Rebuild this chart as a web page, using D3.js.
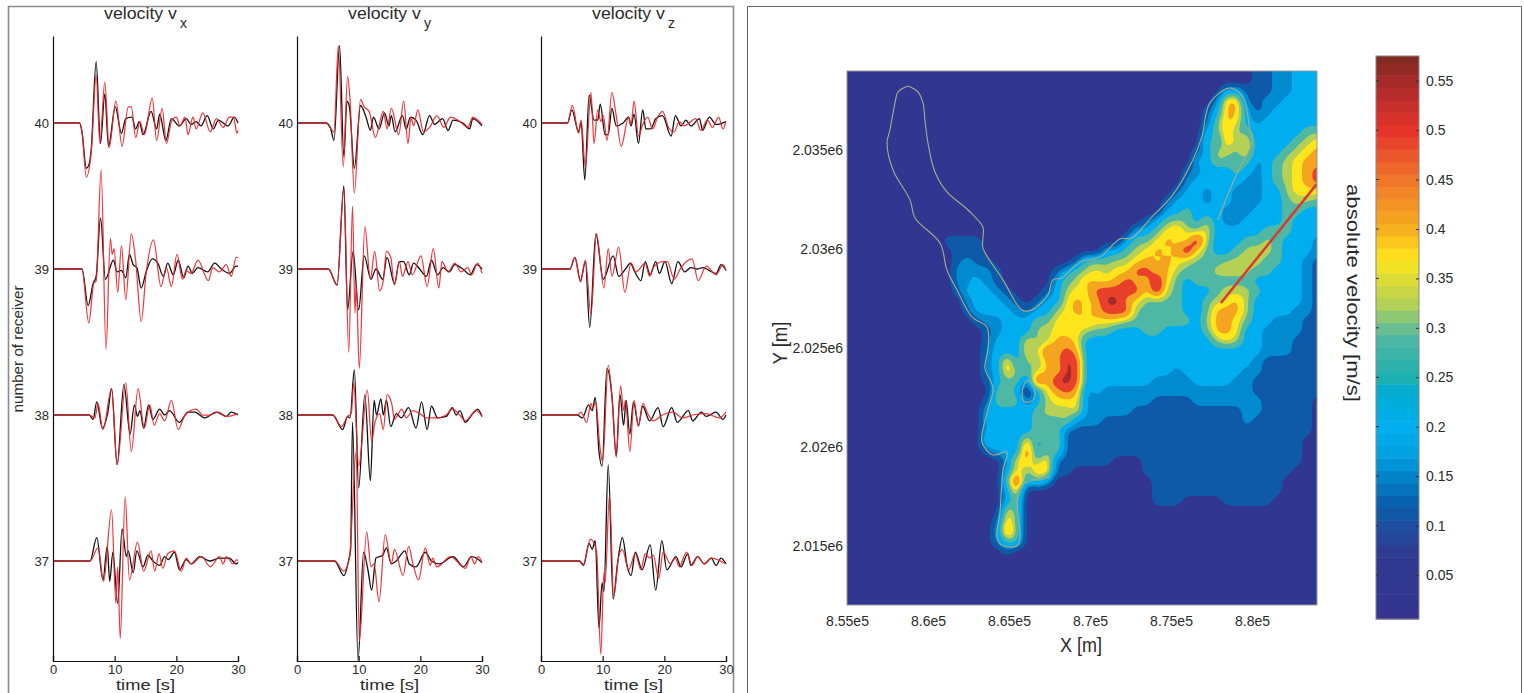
<!DOCTYPE html>
<html>
<head>
<meta charset="utf-8">
<script src="https://cdn.jsdelivr.net/npm/d3@7"></script>
<style>
  body { margin: 0; background: #fff; }
  svg { display: block; }
  text { font-family: "Liberation Sans", Arial, sans-serif; fill: #2a2a2a; }
</style>
</head>
<body>
<div id="chart"></div>
<script>
// seismograms: [time in s, offset from the receiver baseline]
const vx40obs = [[0,0],[4.3,0],[4.7,-.06],[5.4,-.31],[5.8,-.29],[6.2,-.18],[7,.42],[7.7,-.14],[8.4,.2],[9,-.16],[10.1,.11],[11.1,-.07],[11.8,.03],[12.8,.04],[13.4,-.04],[14,.01],[14.6,-.08],[15.9,.08],[16.8,-.04],[17.3,.06],[18.3,-.12],[19.2,.03],[20.5,-.02],[21.6,.03],[22.4,-.01],[23.2,.01],[24,-.02],[25,.05],[26,-.04],[26.8,.02],[28.4,-.02],[29.4,.04],[30,0]];
const vx40syn = [[0,0],[4.3,0],[4.7,-.06],[5.4,-.37],[6.2,-.2],[7,.33],[7.6,-.14],[8.4,.28],[9.1,-.17],[10.2,.15],[11.2,-.16],[12.2,.11],[12.7,.11],[13.4,-.1],[14.1,.01],[14.8,-.08],[16.1,.17],[16.8,-.12],[17.7,.1],[18.4,-.14],[19.2,.01],[20,.04],[20.6,-.02],[21.4,.04],[21.9,-.08],[22.7,.04],[23.2,-.04],[24.3,.07],[25.5,-.06],[26.5,.03],[27.6,-.03],[28.6,.04],[29.2,.04],[29.5,0],[29.8,-.07],[30,-.05]];
const vx39obs = [[0,0],[4.7,0],[5.7,-.25],[6.5,-.1],[7,-.05],[7.7,.35],[8.5,-.07],[9.8,.06],[10.4,-.02],[11.1,-.01],[11.8,-.06],[12.4,.1],[13,.03],[13.6,.01],[14.3,-.13],[15.1,-.02],[16.1,.07],[17,.04],[17.9,-.05],[18.6,.04],[19.5,-.04],[20.3,.06],[21.2,-.06],[21.9,.02],[22.6,-.03],[23.5,.01],[25.1,-.02],[26.2,.04],[27.3,0],[28.6,-.03],[29.7,.02],[30,.02]];
const vx39syn = [[0,0],[4.7,0],[5.8,-.37],[6.6,-.1],[7,-.08],[7.8,.68],[8.6,-.55],[9.3,.21],[9.6,.1],[9.9,.14],[10.5,-.16],[11.1,.16],[11.8,-.21],[12.7,.24],[13.4,.06],[14.3,-.36],[15.1,-.03],[16.3,.2],[17.5,-.12],[18.4,.01],[19.2,-.12],[20.1,.1],[21,-.07],[21.6,-.01],[22.4,-.03],[23.5,.06],[25.2,-.08],[25.9,.01],[27,-.02],[28.1,.03],[28.9,-.05],[29.7,.08],[30,.08]];
const vx38obs = [[0,0],[5.9,0],[6.5,-.03],[7.1,.09],[8,-.09],[8.9,.02],[9.5,.18],[10.4,-.34],[11.5,.21],[12.5,-.13],[13.2,.07],[13.7,-.01],[14.1,.03],[14.7,-.09],[15.5,.07],[16.2,-.03],[17.3,.04],[18.1,0],[18.9,.03],[20.5,-.05],[21.9,.02],[23,.02],[24.6,-.02],[26.5,.02],[28.1,-.01],[28.9,.02],[30,0]];
const vx38syn = [[0,0],[5.9,0],[6.8,-.02],[7.3,.08],[8.1,-.1],[9.5,.18],[10.4,-.34],[11.8,.22],[12.7,-.25],[13.8,.18],[14.8,-.09],[15.7,.07],[16.4,-.07],[17.3,.01],[18.1,-.04],[19.2,.1],[20.3,-.1],[21.4,0],[23.2,.04],[24.3,0],[25.4,0],[26.8,.02],[28.1,-.01],[30,.01]];
const vx37obs = [[0,0],[6,0],[7.1,.16],[8.1,-.13],[8.8,.1],[9.2,-.14],[9.7,.06],[10.5,-.29],[11.2,.22],[11.9,.03],[12.2,.07],[13,-.08],[13.6,.07],[14.6,-.04],[15.4,.04],[16.2,0],[17.3,-.03],[18.1,.03],[18.7,.01],[19.7,.06],[20.5,-.06],[21.6,.01],[22.4,-.02],[23.8,.03],[25.4,0],[27,.02],[28.6,.02],[29.7,-.02],[30,-.01]];
const vx37syn = [[0,0],[6,0],[7.3,.09],[8.2,-.14],[9.5,.35],[10.2,-.29],[10.5,-.04],[10.9,-.53],[11.7,.44],[12.4,-.13],[13.7,.13],[14.7,-.07],[15.9,.07],[16.5,-.07],[17.2,.05],[17.8,-.05],[18.6,.05],[19.7,.07],[20.8,-.07],[21.6,.02],[22.4,-.02],[24.1,.03],[25.5,-.04],[27,.03],[27.6,-.02],[28.1,.03],[29.2,-.02],[29.8,.01],[30,0]];

const vy40obs = [[0,0],[4.7,0],[5.4,-.03],[6,-.12],[6.9,.53],[7.6,-.23],[8.1,.15],[8.5,.11],[9.3,-.31],[10.3,.12],[11.2,.04],[11.9,-.05],[12.4,.04],[13.3,-.04],[14.2,.07],[14.9,-.02],[15.3,.05],[15.9,-.06],[17.1,.05],[17.7,-.04],[18.4,.04],[19.3,.02],[20.4,-.08],[21.5,.05],[22.3,-.01],[23.6,.03],[24.5,-.05],[25.3,.02],[26.9,0],[28,-.04],[28.5,.03],[30,-.02]];
const vy40syn = [[0,0],[4.7,0],[6,-.06],[6.7,.53],[7.5,-.3],[8.2,.32],[8.6,.16],[9.3,-.48],[10.3,.16],[10.9,.11],[11.7,.08],[12.7,-.1],[14,.08],[14.6,-.04],[15.3,.1],[16.5,-.08],[17.3,.15],[18,-.14],[18.5,.04],[18.9,-.02],[19.6,.09],[20.5,-.06],[21.5,-.03],[22.7,.05],[23.8,-.03],[24.9,.04],[26.4,.01],[27.7,-.03],[28.5,.04],[30,-.01]];
const vy39obs = [[0,0],[5.1,0],[6.5,-.11],[7.6,.57],[8.2,-.28],[9.1,.12],[10,-.28],[10.9,.09],[12,-.07],[12.8,0],[13.9,-.07],[14.6,.08],[15.8,-.1],[16.6,.05],[17.3,.05],[18.2,-.04],[18.9,.04],[19.9,0],[21,-.05],[21.8,.06],[22.8,-.04],[23.7,.01],[24.7,-.02],[25.6,.03],[26.9,0],[28.1,-.04],[29.1,.03],[30,0]];
const vy39syn = [[0,0],[5.1,0],[6.5,-.11],[7.6,.55],[8.4,-.57],[9,.43],[9.4,-.3],[9.6,-.1],[10.1,-.68],[11,.29],[11.9,-.07],[12.6,.12],[13.4,-.15],[14,-.08],[14.5,.12],[15.2,.08],[15.8,-.11],[16.6,.05],[17.1,-.05],[18,.05],[18.7,-.04],[20.1,.09],[21.1,-.12],[22.1,.14],[23,-.13],[23.5,.05],[24.5,-.02],[25.6,.04],[26.6,-.02],[27.7,.01],[28.3,-.04],[29.3,.04],[30,-.03]];
const vy38obs = [[0,0],[5.8,0],[7.4,-.1],[8.2,-.01],[8.6,-.02],[9.3,.31],[10,-.5],[11,.14],[11.9,-.45],[12.5,.1],[12.9,0],[13.6,.11],[14,0],[14.5,.1],[15.2,-.08],[16.1,.01],[16.9,-.02],[18.1,.05],[19.3,-.09],[20.2,.09],[21.1,-.1],[21.8,.06],[22.8,-.02],[24.2,-.01],[25.2,.05],[25.8,0],[26.4,.03],[27.3,-.05],[28.5,.01],[29.3,.04],[30,-.01]];
const vy38syn = [[0,0],[5.8,0],[7.2,-.08],[8.2,-.01],[8.8,.01],[9.2,.22],[10,-.35],[11.4,.17],[12.1,-.18],[12.6,-.06],[13.4,.01],[14,-.1],[14.6,.14],[15.4,.07],[15.8,-.03],[17,.04],[17.7,-.02],[18.8,.03],[19.9,.01],[21,-.02],[22.7,-.02],[24.2,0],[25.2,.04],[26.4,0],[27.3,-.04],[29.1,.03],[30,-.01]];
const vy37obs = [[0,0],[6.1,0],[7.6,-.1],[8.4,.01],[8.7,.08],[9,.95],[9.9,-.68],[10.8,.06],[11.5,-.06],[12.1,-.2],[12.8,.02],[13.9,.04],[14.5,.09],[15.3,-.02],[16.1,0],[17.5,.07],[18.2,-.02],[19.3,-.04],[20.8,.06],[21.8,0],[23.1,-.02],[25.3,.03],[27,-.04],[28.3,.03],[29.1,.02],[30,-.01]];
const vy37syn = [[0,0],[6.1,0],[7.6,-.07],[8.5,.02],[9.6,.75],[10.1,-.55],[11.3,.2],[12,-.04],[12.5,-.02],[13.3,-.28],[14.3,.18],[15.3,-.02],[15.8,.08],[17.2,-.1],[18.1,.1],[18.8,-.02],[19.7,-.13],[20.8,.09],[21.6,-.03],[22,.02],[22.7,-.04],[24.9,.03],[27.3,-.05],[28.2,.03],[28.8,-.02],[29.4,.03],[30,-.01]];

const vz40obs = [[0,0],[4.3,0],[5,.09],[6.1,-.06],[6.5,.01],[7.1,-.39],[7.8,.19],[8.6,.02],[9.2,.02],[9.6,.13],[10.4,-.08],[10.9,-.08],[11.5,.1],[12.2,-.02],[13.3,0],[14.2,.04],[14.6,-.02],[15.1,.06],[15.8,-.14],[16.5,.09],[17,-.04],[17.8,-.04],[18.6,.03],[19.7,.05],[21.1,-.09],[21.8,.05],[22.7,-.02],[23.5,.02],[24.3,-.02],[25.7,.03],[26.2,-.05],[27.3,.04],[28.4,-.01],[30,.01]];
const vz40syn = [[0,0],[4.3,0],[5.1,.12],[6.1,-.07],[6.5,.02],[7.2,-.3],[8.1,.21],[8.6,-.14],[9.2,.09],[9.7,.01],[10.1,.05],[10.7,-.12],[11.5,.21],[12.2,.05],[13,-.16],[14.2,.04],[14.6,-.01],[15.1,.15],[15.8,-.09],[16.5,-.01],[17.3,.04],[18.1,-.04],[18.9,.04],[19.7,.08],[20.8,-.04],[21.6,-.06],[22.4,.01],[23.2,-.02],[25.1,.03],[25.9,-.05],[27,.02],[27.8,-.03],[28.8,.04],[29.5,-.04],[30,.01]];
const vz39obs = [[0,0],[4.7,0],[5.5,.08],[6.4,-.08],[7.2,.05],[7.9,-.4],[8.9,.24],[10.1,-.07],[11.7,.09],[12.6,-.05],[13.7,0],[14.5,.04],[15.1,-.01],[16.2,-.08],[16.9,.05],[17.7,-.04],[18.6,.05],[19.2,-.03],[20.1,.05],[21.2,-.1],[22.2,.05],[23.3,-.02],[24.3,.01],[25.4,0],[26.2,.01],[28.4,-.03],[29.2,.03],[30,-.01]];
const vz39syn = [[0,0],[4.7,0],[5.5,.08],[6.4,-.09],[7.2,.06],[8.1,-.31],[9,.24],[10.2,-.13],[10.9,.14],[11.5,-.05],[12.6,.15],[13.6,-.16],[14.6,.04],[15.4,-.02],[16.9,.04],[17.6,-.05],[18.2,.01],[19.7,.05],[20.5,.05],[21.6,-.07],[22.7,.01],[24.5,.07],[25.5,-.08],[26.8,.02],[28.4,-.04],[29.5,.03],[30,-.01]];
const vz38obs = [[0,0],[5.9,0],[6.7,-.02],[7.7,.07],[8.3,.03],[8.8,.12],[9.4,-.25],[9.9,-.35],[10.7,.32],[11.5,.13],[12.2,-.28],[12.8,.14],[13.4,-.07],[13.8,.1],[14.4,-.13],[15,.09],[15.8,-.07],[16.5,.06],[17.6,-.04],[19,.05],[19.8,-.08],[21.2,.05],[22.1,-.05],[23.9,.03],[24.6,-.04],[26,.02],[26.8,-.01],[28.4,.02],[29.5,-.03],[30,0]];
const vz38syn = [[0,0],[5.9,0],[6.5,.02],[7.4,-.05],[8.1,.08],[8.4,.05],[8.9,.09],[9.5,-.2],[10,-.32],[10.9,.34],[11.6,.08],[12.2,-.29],[12.9,.2],[13.4,.03],[13.7,.1],[14.4,-.25],[15.1,.1],[15.8,-.08],[16.5,.08],[17.3,.01],[18.2,-.04],[19.7,0],[21.4,.02],[23,-.02],[24.6,0],[26.8,.01],[28.9,-.02],[30,.02]];
const vz37obs = [[0,0],[6.2,0],[6.9,-.03],[7.8,.12],[8.3,.08],[8.8,.14],[9.4,-.46],[9.9,-.15],[10.2,-.21],[10.9,.66],[11.7,-.26],[12.4,-.02],[13.2,.16],[14,-.04],[14.6,-.1],[15.3,.06],[16.4,-.06],[17.7,.11],[18.6,-.2],[19.6,.14],[20.4,-.06],[21.9,.03],[22.7,-.04],[23.8,.05],[24.3,-.03],[25.4,.03],[26.5,-.02],[27.6,.02],[28.4,-.03],[29.2,.02],[30,-.02]];
const vz37syn = [[0,0],[6.2,0],[6.9,-.02],[8,.15],[9,.07],[9.7,-.64],[10.2,-.08],[10.4,-.15],[11.1,.45],[11.8,-.24],[12.6,.03],[13.2,.08],[14.2,-.06],[15.3,.05],[16.2,-.06],[16.9,.05],[17.6,.02],[18.2,.04],[19.1,-.12],[19.8,.06],[21,-.02],[21.8,.02],[22.4,-.04],[23.6,.06],[24.5,-.03],[25.4,.03],[26.5,-.02],[27.6,.02],[30,-.02]];

const panelNames = ["x", "y", "z"];
const receivers = [40, 39, 38, 37];
const timeTicks = [0, 10, 20, 30];
const observed = [[vx40obs, vx39obs, vx38obs, vx37obs], [vy40obs, vy39obs, vy38obs, vy37obs], [vz40obs, vz39obs, vz38obs, vz37obs]];
const synthetic = [[vx40syn, vx39syn, vx38syn, vx37syn], [vy40syn, vy39syn, vy38syn, vy37syn], [vz40syn, vz39syn, vz38syn, vz37syn]];

// velocity map: one digit per 617 x 505 m cell, index into bandVelocity
const bandVelocity = [0.04, 0.115, 0.155, 0.2, 0.29, 0.325, 0.37, 0.41, 0.49, 0.55];
const gridRows = [
  "0000000000 0000000000 0000000000 0000000000 01122333",
  "0000000000 0000000000 0000000000 0000000000 01122333",
  "0000000000 0000000000 0000000000 0000000033 11122333",
  "0000000000 0000000000 0000000000 0000000277 11223333",
  "0000000000 0000000000 0000000000 0000001377 31233333",
  "0000000000 0000000000 0000000000 0000001476 32333333",
  "0000000000 0000000000 0000000000 0000003474 43333344",
  "0000000000 0000000000 0000000000 0000004375 63333456",
  "0000000000 0000000000 0000000000 0000013554 63334567",
  "0000000000 0000000000 0000000000 0000033544 42345677",
  "0000000000 0000000000 0000000000 0000123334 32345678",
  "0000000000 0000000000 0000000000 0000233333 22345678",
  "0000000000 0000000000 0000000000 0001332332 22335666",
  "0000000000 0000000000 0000000000 0013332332 22334554",
  "0000000000 0000000000 0000000000 0033433322 23334433",
  "0000000000 0000000000 0000000000 1345435322 33334333",
  "0000000000 0000000000 0000000003 3467556333 33444333",
  "0000000000 1111000000 0000000034 4676695333 44543332",
  "0000000000 0111000000 0000003345 6767964334 55543332",
  "0000000000 0121100000 0001444556 7676544455 55443321",
  "0000000000 0232210000 0134565668 8775444555 54433321",
  "0000000000 0223210000 0345766787 7964344444 43333321",
  "0000000000 0133321000 1356688888 6954333455 54333321",
  "0000000000 0023332101 3367679976 4444334567 53333321",
  "0000000000 0013333213 3567678884 4444334777 53333221",
  "0000000000 0001223334 4666766654 4444435776 43322211",
  "0000000000 0000123335 5666544333 4433334776 33222211",
  "0000000000 0000133364 5776333333 3333333565 33222111",
  "0000000000 0000233365 8787333333 3333333333 33222111",
  "0000000000 0000237354 7798333333 3333333333 32111111",
  "0000000000 0000237445 7698333333 3332333333 22111111",
  "0000000000 0000134419 6998333333 3222233332 21111111",
  "0000000000 0000044303 6787232222 2222222222 21111111",
  "0000000000 0000145413 5666222222 2111122222 22111110",
  "0000000000 0000333334 5556222221 1111111111 22111110",
  "0000000000 0000343334 4452221111 1111111111 21111110",
  "0000000000 0000333334 4411111111 1111111111 11111110",
  "0000000000 0000433373 4511111111 1111111111 11111100",
  "0000000000 0000133383 4411111111 1111111111 11111100",
  "0000000000 0000002674 7111111000 1111111111 11111100",
  "0000000000 0000003647 7110000000 1111111111 11111000",
  "0000000000 0000004934 3000000000 0111111111 11110000",
  "0000000000 0000003700 0000000000 0111111111 11110000",
  "0000000000 0000003400 0000000000 0111000011 11100000",
  "0000000000 0000006400 0000000000 0000000000 00000000",
  "0000000000 0000017400 0000000000 0000000000 00000000",
  "0000000000 0000028400 0000000000 0000000000 00000000",
  "0000000000 0000024400 0000000000 0000000000 00000000",
  "0000000000 0000001000 0000000000 0000000000 00000000",
  "0000000000 0000000000 0000000000 0000000000 00000000",
  "0000000000 0000000000 0000000000 0000000000 00000000",
  "0000000000 0000000000 0000000000 0000000000 00000000",
  "0000000000 0000000000 0000000000 0000000000 00000000",
  "0000000000 0000000000 0000000000 0000000000 00000000"
];

// glacier outline and profile line, in thousands of metres
const outlineEast = [[858.76,2038.23],[859.38,2037.93],[859.69,2037.37],[859.81,2036.52],[860,2035.35],[860.43,2033.89],[861.17,2032.88],[862.47,2031.97],[863.39,2031.11],[863.39,2030.56],[863.39,2030.05],[864.63,2028.44],[865.8,2026.92],[866.41,2026.92],[867.4,2027.68],[867.71,2028.44],[868.27,2028.54],[869.38,2029.34],[870.61,2029.6],[871.84,2030.51],[872.58,2030.56],[873.82,2031.62],[875.11,2032.73],[876.35,2034.5],[876.9,2035.66],[877.4,2037.37],[878.63,2038.13],[879.43,2037.68],[879.87,2036.01],[879.99,2035.35],[879.25,2034.14],[878.45,2032.63],[877.89,2031.46]];
const outlineWest = [[858.76,2038.23],[858.15,2037.93],[857.96,2037.37],[857.65,2036.01],[857.47,2035.35],[857.84,2033.99],[858.89,2032.48],[859.2,2031.57],[860.74,2030.3],[861.17,2028.94],[861.79,2027.93],[862.71,2026.57],[863.64,2026.06],[863.7,2024.9],[863.51,2023.99],[864.01,2022.98],[863.64,2021.72],[863.33,2020.25],[864.01,2019.6],[864.87,2019.75],[864.63,2018.84],[864.44,2016.67],[864.26,2015.46],[864.56,2015.05],[865.55,2015.05],[865.67,2017.98],[867.53,2018.49]];
const outlineLake = [[866.17,2023.39],[866.6,2022.88],[866.48,2022.38],[865.98,2022.27],[865.8,2022.73],[865.98,2023.23],[866.17,2023.39]];
const profileLine = [[878.08,2027.27],[884,2033.28]];

const xTicks = [855000, 860000, 865000, 870000, 875000, 880000];
const yTicks = [2015000, 2020000, 2025000, 2030000, 2035000];
const xTickLabels = ["8.55e5", "8.6e5", "8.65e5", "8.7e5", "8.75e5", "8.8e5"];
const yTickLabels = ["2.015e6", "2.02e6", "2.025e6", "2.03e6", "2.035e6"];
const barTicks = [0.05, 0.1, 0.15, 0.2, 0.25, 0.3, 0.35, 0.4, 0.45, 0.5, 0.55];

const colorStops = [0.0055, 0.07, 0.1, 0.12, 0.15, 0.17, 0.2, 0.235, 0.25, 0.29, 0.325, 0.37, 0.4, 0.45, 0.5, 0.55, 0.575];
const colorValues = ["#333591", "#30398f", "#1d4fa0", "#0b5dab", "#0083c9", "#00a0e0", "#00aeef", "#00acd2", "#1eb0ae", "#4eb8a4", "#b5d155", "#ffe61c", "#f6b01e", "#f0762a", "#e6332a", "#a52a2a", "#7a2a20"];
const velocityColor = d3.scaleLinear().domain(colorStops).range(colorValues);

const svg = d3.select("#chart").append("svg").attr("width", 1524).attr("height", 693);

// outer frames
svg.append("path").attr("d", "M8.5,693V6.5H733.5V693").attr("fill", "none").attr("stroke", "#8a8a8a").attr("stroke-width", 1.6);
svg.append("path").attr("d", "M747.5,693V6.5H1521.5V693").attr("fill", "none").attr("stroke", "#666").attr("stroke-width", 1);

const panelLeft = [53, 297, 541];
const titleLeft = [104, 348, 592];

const yScale = d3.scaleLinear().domain([36.315, 40.596]).range([661, 36]);
const traceLine = (xScale, receiver) => d3.line()
  .x(d => xScale(d[0]))
  .y(d => yScale(receiver + d[1]))
  .curve(d3.curveMonotoneX);

function drawPanel(k) {
  const xScale = d3.scaleLinear().domain([0, 30]).range([panelLeft[k], panelLeft[k] + 185]);
  const g = svg.append("g");

  receivers.forEach((r, i) => {
    g.append("path").attr("d", traceLine(xScale, r)(observed[k][i]))
      .attr("fill", "none").attr("stroke", "#111").attr("stroke-width", 1.3);
  });
  receivers.forEach((r, i) => {
    g.append("path").attr("d", traceLine(xScale, r)(synthetic[k][i]))
      .attr("fill", "none").attr("stroke", "#ec2229").attr("stroke-width", 1.25).attr("stroke-opacity", 0.9);
  });

  const xAxis = g.append("g").attr("transform", "translate(0,661)")
    .call(d3.axisBottom(xScale).tickValues(timeTicks).tickSize(-5).tickPadding(4).tickFormat(d3.format("d")));
  const yAxis = g.append("g").attr("transform", `translate(${panelLeft[k]},0)`)
    .call(d3.axisLeft(yScale).tickValues(receivers).tickSize(0).tickPadding(4).tickFormat(d3.format("d")));
  for (const axis of [xAxis, yAxis]) {
    axis.selectAll("text").attr("font-size", 13).style("font-family", "Liberation Sans");
    axis.selectAll("line, path").attr("stroke", "#111").attr("stroke-width", 1.2);
  }

  g.append("text").attr("x", titleLeft[k]).attr("y", 19).attr("font-size", 16)
    .attr("textLength", 73).attr("lengthAdjust", "spacingAndGlyphs").text("velocity v");
  g.append("text").attr("x", titleLeft[k] + 76).attr("y", 28).attr("font-size", 14).text(panelNames[k]);
  g.append("text").attr("x", xScale(15)).attr("y", 689.5).attr("text-anchor", "middle")
    .attr("font-size", 15.5).attr("textLength", 59).attr("lengthAdjust", "spacingAndGlyphs").text("time [s]");
}
panelNames.forEach((d, k) => drawPanel(k));

svg.append("text").attr("transform", "translate(23,349) rotate(-90)").attr("text-anchor", "middle")
  .attr("font-size", 15.5).attr("textLength", 127).attr("lengthAdjust", "spacingAndGlyphs").text("number of receiver");

// map
const mapX = d3.scaleLinear().domain([855000, 884012]).range([847, 1317]);
const mapY = d3.scaleLinear().domain([2012020, 2038990]).range([605, 71]);
const cellX = 617.3, cellY = 505;
const nCols = 48, nRows = gridRows.length, fine = 4;
const gridValues = gridRows.flatMap(row => Array.from(row.replace(/ /g, ""), c => bandVelocity[+c]));

// bilinear refinement, so the bands do not come out as staircases
function refineGrid(values, w, h, f) {
  const out = new Float64Array(w * f * h * f);
  for (let j = 0; j < h * f; j++) {
    const gy = Math.min(h - 1, Math.max(0, (j + 0.5) / f - 0.5));
    const j0 = Math.min(h - 2, Math.floor(gy)), ty = gy - j0;
    for (let i = 0; i < w * f; i++) {
      const gx = Math.min(w - 1, Math.max(0, (i + 0.5) / f - 0.5));
      const i0 = Math.min(w - 2, Math.floor(gx)), tx = gx - i0;
      const top = values[j0 * w + i0] * (1 - tx) + values[j0 * w + i0 + 1] * tx;
      const bottom = values[(j0 + 1) * w + i0] * (1 - tx) + values[(j0 + 1) * w + i0 + 1] * tx;
      out[j * w * f + i] = top * (1 - ty) + bottom * ty;
    }
  }
  return out;
}
const fineValues = refineGrid(gridValues, nCols, nRows, fine);
d3.blur2({data: fineValues, width: nCols * fine, height: nRows * fine}, 1);

const thresholds = bandVelocity.slice(1).map((v, i) => (v + bandVelocity[i]) / 2);
const contours = d3.contours().size([nCols * fine, nRows * fine]).smooth(true).thresholds(thresholds)(Array.from(fineValues));
const gridToMap = d3.geoTransform({
  point(cx, cy) {
    this.stream.point(mapX(855000 + (cx / fine - 0.5) * cellX), mapY(2038990 - (cy / fine - 0.5) * cellY));
  }
});
const contourPath = d3.geoPath(gridToMap);

svg.append("clipPath").attr("id", "map-clip").append("rect")
  .attr("x", 847).attr("y", 71).attr("width", 470).attr("height", 534);

const mapG = svg.append("g").attr("clip-path", "url(#map-clip)");
mapG.append("rect").attr("x", 847).attr("y", 71).attr("width", 470).attr("height", 534)
  .attr("fill", velocityColor(bandVelocity[0]));
mapG.selectAll(".band").data(contours).join("path").attr("class", "band")
  .attr("d", contourPath)
  .attr("fill", (d, i) => velocityColor(bandVelocity[i + 1]));

const outlineLine = d3.line().x(d => mapX(d[0] * 1000)).y(d => mapY(d[1] * 1000)).curve(d3.curveCatmullRom);
for (const outline of [outlineEast, outlineWest, outlineLake]) {
  mapG.append("path").attr("d", outlineLine(outline)).attr("fill", "none")
    .attr("stroke", "#a9ab8c").attr("stroke-width", 1.1);
}
mapG.append("path").attr("d", outlineLine(profileLine)).attr("stroke", "#e0352b").attr("stroke-width", 2.4);

svg.append("rect").attr("x", 847).attr("y", 71).attr("width", 470).attr("height", 534)
  .attr("fill", "none").attr("stroke", "#9a9a9a");

const mapXAxis = svg.append("g").attr("transform", "translate(0,605)")
  .call(d3.axisBottom(mapX).tickValues(xTicks).tickSize(0).tickPadding(11).tickFormat((d, i) => xTickLabels[i]));
const mapYAxis = svg.append("g").attr("transform", "translate(847,0)")
  .call(d3.axisLeft(mapY).tickValues(yTicks).tickSize(0).tickPadding(4).tickFormat((d, i) => yTickLabels[i]));
for (const axis of [mapXAxis, mapYAxis]) {
  axis.select(".domain").remove();
  axis.selectAll("text").attr("font-size", 14).style("font-family", "Liberation Sans");
}

svg.append("text").attr("x", 1081).attr("y", 652).attr("text-anchor", "middle").attr("font-size", 20)
  .attr("textLength", 42).attr("lengthAdjust", "spacingAndGlyphs").text("X [m]");
svg.append("text").attr("transform", "translate(787,343) rotate(-90)").attr("text-anchor", "middle").attr("font-size", 20)
  .attr("textLength", 43).attr("lengthAdjust", "spacingAndGlyphs").text("Y [m]");

// colour bar
const barY = d3.scaleLinear().domain([0.0055, 0.575]).range([619, 56]);
const barEdges = d3.range(0.0055, 0.575, 0.0125).concat([0.575]);
svg.selectAll(".bar-step").data(d3.pairs(barEdges)).join("rect").attr("class", "bar-step")
  .attr("x", 1376).attr("width", 43)
  .attr("y", d => barY(d[1]))
  .attr("height", d => barY(d[0]) - barY(d[1]) + 0.5)
  .attr("fill", d => velocityColor((d[0] + d[1]) / 2));
svg.append("rect").attr("x", 1376).attr("y", 56).attr("width", 43).attr("height", 563)
  .attr("fill", "none").attr("stroke", "#888");

const barAxis = svg.append("g").attr("transform", "translate(1419,0)")
  .call(d3.axisRight(barY).tickValues(barTicks).tickSize(-3).tickPadding(7).tickFormat(d3.format("")));
barAxis.select(".domain").remove();
barAxis.selectAll("line").attr("stroke", "#333");
barAxis.selectAll("text").attr("font-size", 14).style("font-family", "Liberation Sans");
svg.selectAll(".bar-tick-left").data(barTicks).join("line").attr("class", "bar-tick-left")
  .attr("x1", 1376).attr("x2", 1379).attr("y1", d => barY(d)).attr("y2", d => barY(d)).attr("stroke", "#333");

svg.append("text").attr("transform", "translate(1347,293) rotate(90)").attr("text-anchor", "middle").attr("font-size", 18)
  .attr("textLength", 218).attr("lengthAdjust", "spacingAndGlyphs").text("absolute velocity [m/s]");
</script>
</body>
</html>
